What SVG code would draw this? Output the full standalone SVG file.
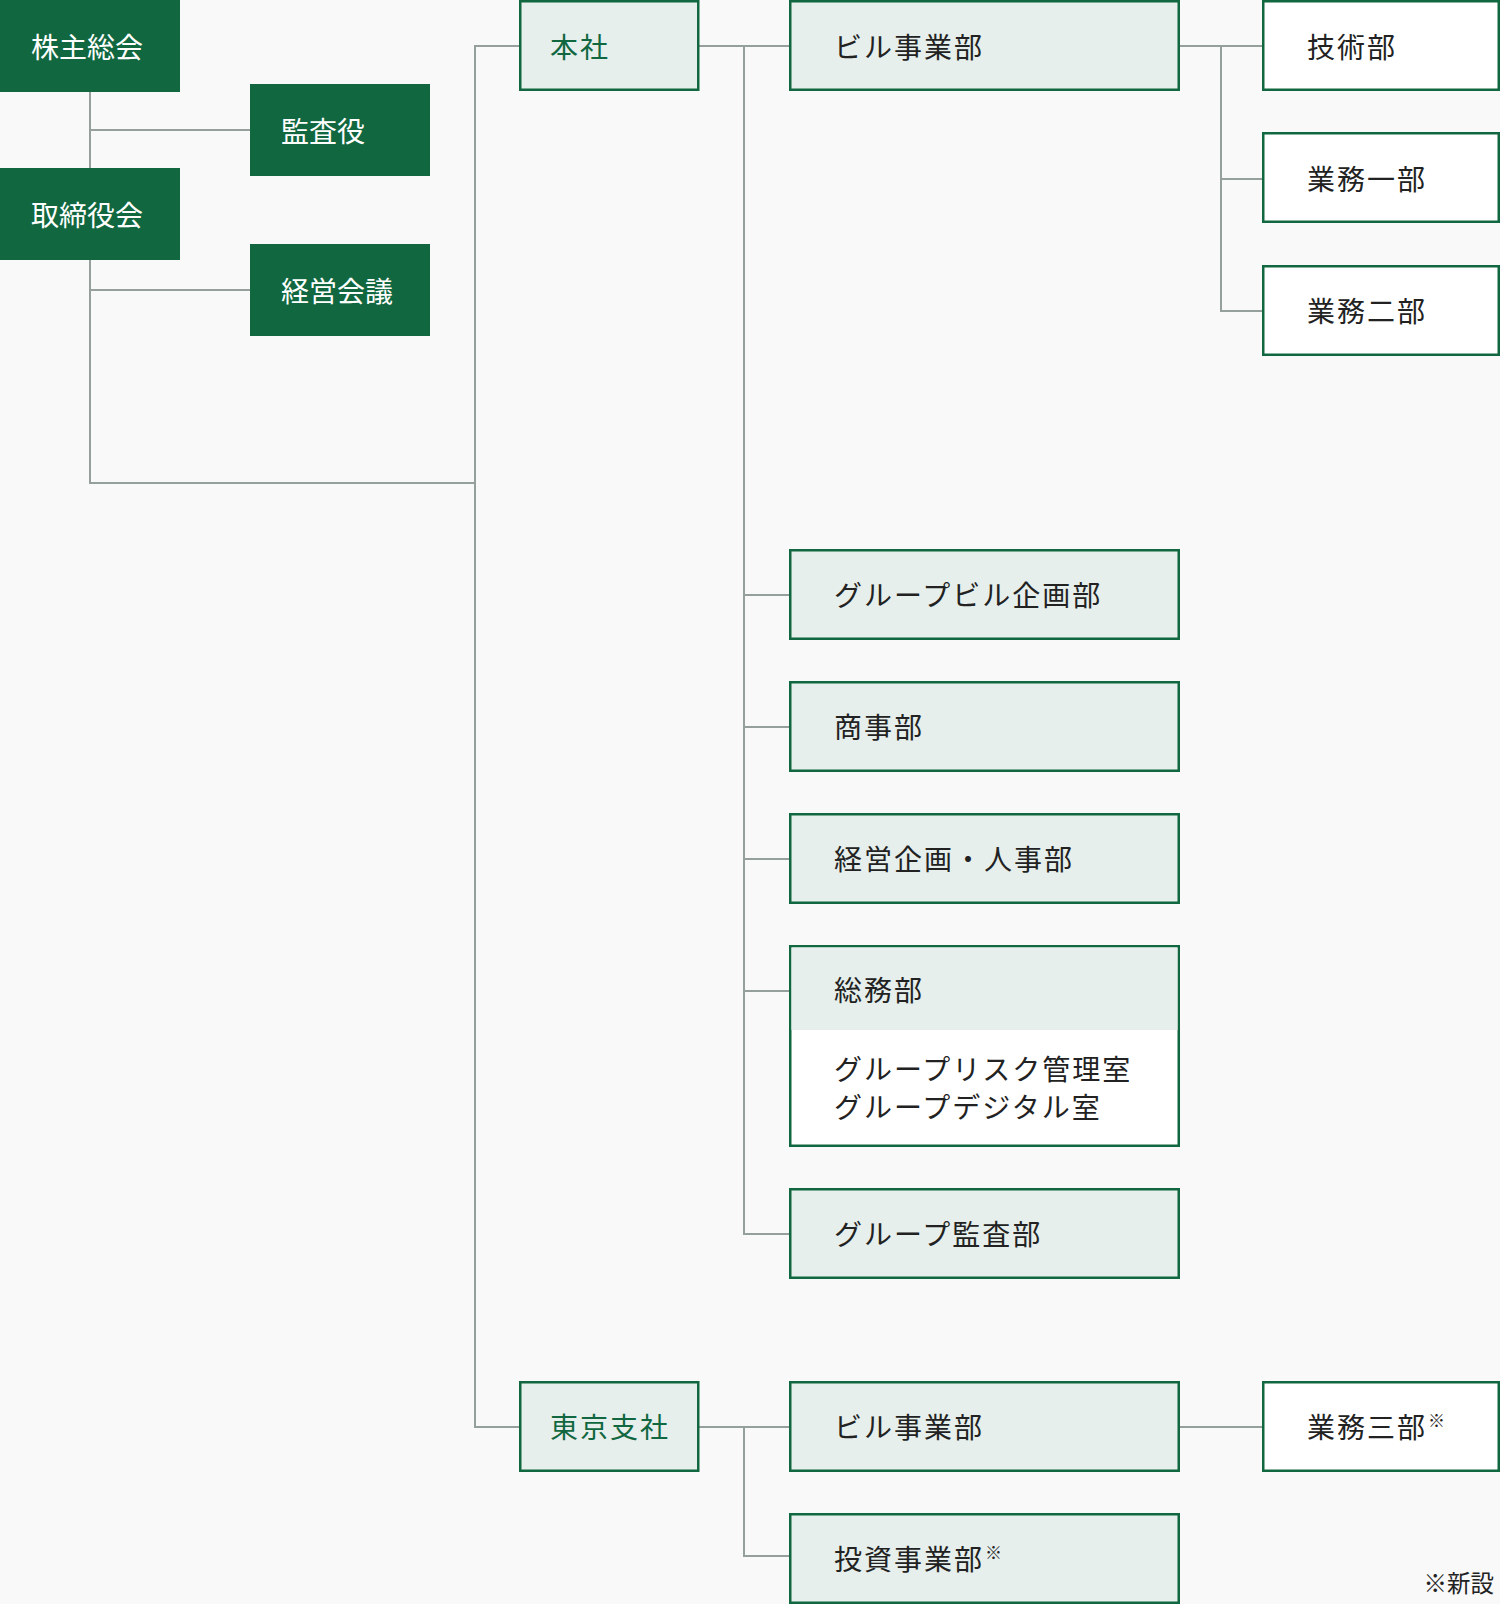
<svg xmlns="http://www.w3.org/2000/svg" width="1500" height="1604" viewBox="0 0 1500 1604">
<style>
  text { font-family: "Noto Sans CJK JP", "Noto Sans", sans-serif; font-size: 28px; }
  .dark rect { fill: #11673F; }
  .dark text { fill: #FFFFFF; letter-spacing: 0px; }
  .lt rect { fill: #E6EFEC; stroke: #11673F; stroke-width: 2.5; }
  .wt rect { fill: #FFFFFF; stroke: #11673F; stroke-width: 2.5; }
  .lt text, .wt text { fill: #222222; letter-spacing: 2px; }
  .br text { fill: #11673F; }
  .conn { fill: none; stroke: #95A09C; stroke-width: 2; }
  .sup { font-size: 17px; letter-spacing: 0; }
</style>
<rect x="0" y="0" width="1500" height="1604" fill="#F9F9F9"/>

<g id="connectors" class="conn">
  <path d="M90 92 V483 H475"/>
  <path d="M90 130 H250"/>
  <path d="M90 290 H250"/>
  <path d="M520 46 H475 V1427 H520"/>
  <path d="M699 46 H790"/>
  <path d="M744 46 V1234 H790"/>
  <path d="M744 595 H790"/>
  <path d="M744 727 H790"/>
  <path d="M744 859 H790"/>
  <path d="M744 991 H790"/>
  <path d="M1180 46 H1263"/>
  <path d="M1221 46 V311 H1263"/>
  <path d="M1221 179 H1263"/>
  <path d="M699 1427 H790"/>
  <path d="M744 1427 V1556 H790"/>
  <path d="M1180 1427 H1263"/>
</g>

<g id="kabunushi" class="dark">
  <rect x="0" y="0" width="180" height="92"/>
  <text x="31" y="58">株主総会</text>
</g>
<g id="kansayaku" class="dark">
  <rect x="250" y="84" width="180" height="92"/>
  <text x="281" y="142">監査役</text>
</g>
<g id="torishimariyakukai" class="dark">
  <rect x="0" y="168" width="180" height="92"/>
  <text x="31" y="226">取締役会</text>
</g>
<g id="keiei-kaigi" class="dark">
  <rect x="250" y="244" width="180" height="92"/>
  <text x="281" y="302">経営会議</text>
</g>

<g id="honsha" class="lt br">
  <rect x="520.25" y="1.25" width="178" height="88.5"/>
  <text x="550" y="58">本社</text>
</g>
<g id="biru-jigyobu" class="lt">
  <rect x="790.25" y="1.25" width="388.5" height="88.5"/>
  <text x="834" y="58">ビル事業部</text>
</g>
<g id="gijutsubu" class="wt">
  <rect x="1263.25" y="1.25" width="235.5" height="88.5"/>
  <text x="1307" y="58">技術部</text>
</g>
<g id="gyomu1" class="wt">
  <rect x="1263.25" y="133.25" width="235.5" height="88.5"/>
  <text x="1307" y="190">業務一部</text>
</g>
<g id="gyomu2" class="wt">
  <rect x="1263.25" y="266.25" width="235.5" height="88.5"/>
  <text x="1307" y="322">業務二部</text>
</g>
<g id="group-biru-kikaku" class="lt">
  <rect x="790.25" y="550.25" width="388.5" height="88.5"/>
  <text x="834" y="606">グループビル企画部</text>
</g>
<g id="shojibu" class="lt">
  <rect x="790.25" y="682.25" width="388.5" height="88.5"/>
  <text x="834" y="738">商事部</text>
</g>
<g id="keiei-kikaku-jinji" class="lt">
  <rect x="790.25" y="814.25" width="388.5" height="88.5"/>
  <text x="834" y="870">経営企画・人事部</text>
</g>
<g id="somubu" class="wt">
  <rect x="790.25" y="946.25" width="388.5" height="199.5"/>
  <rect x="791.5" y="947.5" width="386" height="82.5" style="fill:#E6EFEC;stroke:none"/>
  <text x="834" y="1001">総務部</text>
  <text x="834" y="1080">グループリスク管理室</text>
  <text x="834" y="1118">グループデジタル室</text>
</g>
<g id="group-kansa" class="lt">
  <rect x="790.25" y="1189.25" width="388.5" height="88.5"/>
  <text x="834" y="1245">グループ監査部</text>
</g>

<g id="tokyo-shisha" class="lt br">
  <rect x="520.25" y="1382.25" width="178" height="88.5"/>
  <text x="550" y="1438">東京支社</text>
</g>
<g id="tokyo-biru-jigyobu" class="lt">
  <rect x="790.25" y="1382.25" width="388.5" height="88.5"/>
  <text x="834" y="1438">ビル事業部</text>
</g>
<g id="gyomu3" class="wt">
  <rect x="1263.25" y="1382.25" width="235.5" height="88.5"/>
  <text x="1307" y="1438">業務三部<tspan class="sup" dx="1" dy="-11">※</tspan></text>
</g>
<g id="toshi-jigyobu" class="lt">
  <rect x="790.25" y="1514.25" width="388.5" height="88.5"/>
  <text x="834" y="1570">投資事業部<tspan class="sup" dx="1" dy="-11">※</tspan></text>
</g>

<text id="note" x="1494" y="1592" text-anchor="end" style="font-size:23.5px;fill:#222222">※新設</text>
</svg>
